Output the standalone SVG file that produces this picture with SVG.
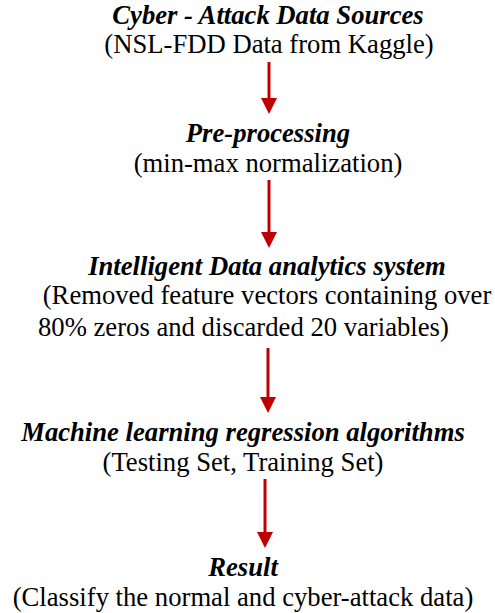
<svg xmlns="http://www.w3.org/2000/svg" width="495" height="613" viewBox="0 0 495 613">
  <style>
    text { font-family: 'Liberation Serif', 'Times New Roman', serif; font-size: 26.67px; fill: #000; }
    .title { font-weight: bold; font-style: italic; }
    .mid { text-anchor: middle; }
    .link { stroke: #c00000; stroke-width: 3; fill: none; }
  </style>
  <defs>
    <marker id="head" viewBox="0 0 16 16" refX="0" refY="8" markerWidth="16" markerHeight="16" markerUnits="userSpaceOnUse" orient="auto">
      <path d="M0,0 L16,8 L0,16 Z" fill="#c00000"/>
    </marker>
  </defs>
  <rect width="495" height="613" fill="#fff"/>

  <g id="sources">
    <text class="title mid" x="268" y="24">Cyber - Attack Data Sources</text>
    <text class="mid" x="269" y="53">(NSL-FDD Data from Kaggle)</text>
  </g>
  <g id="preprocessing">
    <text class="title mid" x="268" y="142">Pre-processing</text>
    <text class="mid" x="268" y="172">(min-max normalization)</text>
  </g>
  <g id="analytics">
    <text class="title mid" x="267" y="275">Intelligent Data analytics system</text>
    <text class="mid" x="267" y="304">(Removed feature vectors containing over</text>
    <text x="38" y="336">80% zeros and discarded 20 variables)</text>
  </g>
  <g id="regression">
    <text class="title mid" x="243" y="441">Machine learning regression algorithms</text>
    <text class="mid" x="243" y="471">(Testing Set, Training Set)</text>
  </g>
  <g id="result">
    <text class="title mid" x="243" y="576">Result</text>
    <text class="mid" x="243" y="606">(Classify the normal and cyber-attack data)</text>
  </g>

  <g id="connectors">
    <line class="link" x1="269" y1="62" x2="269" y2="98" marker-end="url(#head)"/>
    <line class="link" x1="269" y1="180" x2="269" y2="232" marker-end="url(#head)"/>
    <line class="link" x1="268" y1="348" x2="268" y2="397" marker-end="url(#head)"/>
    <line class="link" x1="265" y1="479" x2="265" y2="532" marker-end="url(#head)"/>
  </g>
</svg>
